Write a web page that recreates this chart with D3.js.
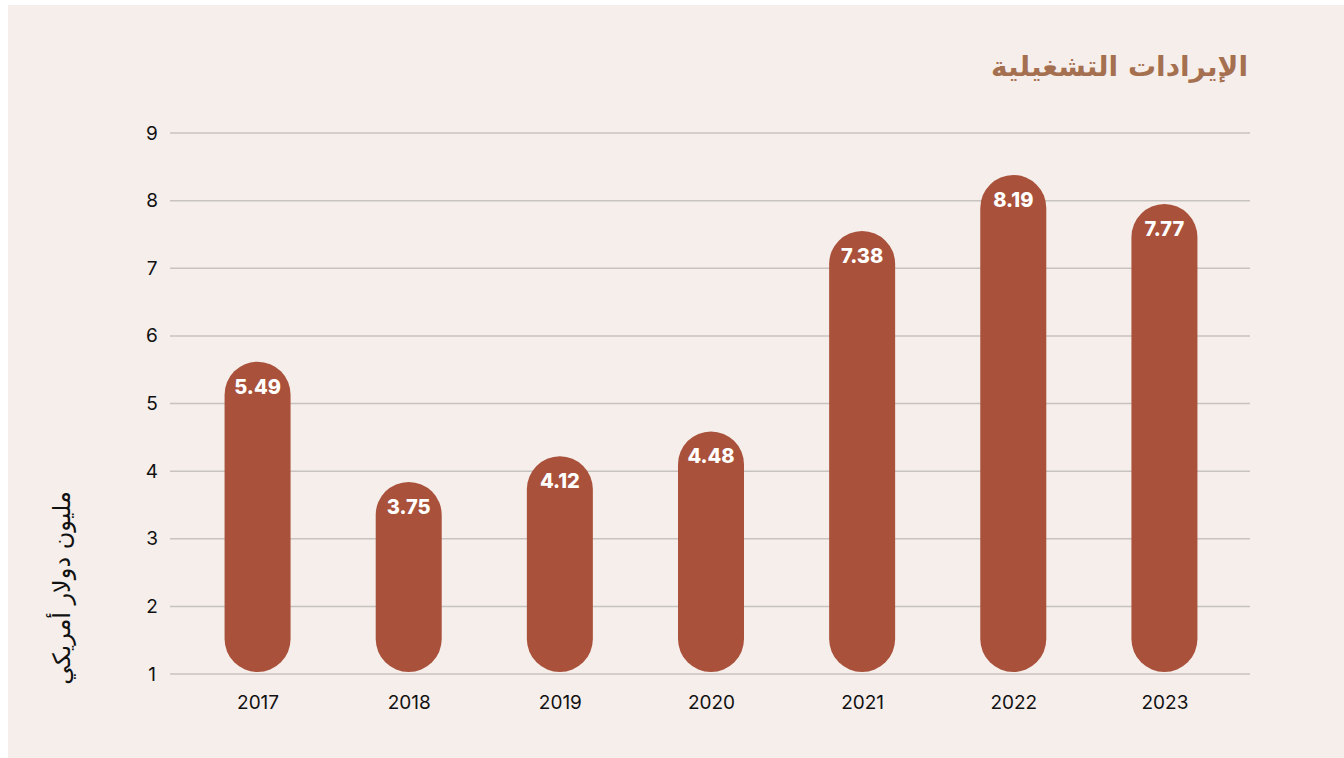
<!DOCTYPE html>
<html>
<head>
<meta charset="utf-8">
<script src="https://cdn.jsdelivr.net/npm/d3@7"></script>
<style>
  body { margin: 0; background: #ffffff; }
  svg { display: block; }
</style>
</head>
<body>
<svg id="chart"></svg>
<script>
// Chart data
const years = ['2017', '2018', '2019', '2020', '2021', '2022', '2023'];
const revenue = [5.49, 3.75, 4.12, 4.48, 7.38, 8.19, 7.77];
const yTicks = [1, 2, 3, 4, 5, 6, 7, 8, 9];
const titleText = 'الإيرادات التشغيلية';
const yLabelText = 'مليون دولار أمريكي';

const width = 1344;
const height = 758;

const svg = d3.select('svg#chart')
    .attr('width', width)
    .attr('height', height);

// Panel background
svg.append('rect')
    .attr('x', 8)
    .attr('y', 5)
    .attr('width', width - 8)
    .attr('height', height - 5)
    .attr('fill', '#f5eeeb');

// Scales
const xScale = d3.scalePoint()
    .domain(years)
    .range([182, 1240])
    .padding(0.5);

const yScale = d3.scaleLinear()
    .domain([1, 9])
    .range([674, 133]);

// bars in the source are drawn on a slightly stretched scale
const barScale = d3.scaleLinear()
    .domain([1, 9])
    .range([672, 119]);

const barWidth = 66;

// Grid lines
svg.append('g')
    .selectAll('line')
    .data(yTicks)
    .enter()
    .append('line')
    .attr('x1', 170)
    .attr('x2', 1250)
    .attr('y1', d => yScale(d))
    .attr('y2', d => yScale(d))
    .attr('stroke', '#c8c3c0')
    .attr('stroke-width', 1.5);

// Y axis
const yAxis = d3.axisLeft(yScale)
    .tickValues(yTicks)
    .tickSize(0)
    .tickPadding(0);

svg.append('g')
    .attr('transform', 'translate(152, 0)')
    .call(yAxis)
    .call(g => g.select('.domain').remove())
    .selectAll('text')
    .attr('text-anchor', 'middle')
    .attr('font-family', 'Inter, "Noto Sans", sans-serif')
    .attr('font-size', 19)
    .attr('fill', '#111');

// X axis
const xAxis = d3.axisBottom(xScale)
    .tickSize(0)
    .tickPadding(0);

svg.append('g')
    .attr('transform', 'translate(0, 695)')
    .call(xAxis)
    .call(g => g.select('.domain').remove())
    .selectAll('text')
    .attr('font-family', 'Inter, "Noto Sans", sans-serif')
    .attr('font-size', 19)
    .attr('fill', '#111');

// Bars (pill shapes)
svg.append('g')
    .selectAll('rect')
    .data(revenue)
    .enter()
    .append('rect')
    .attr('x', (d, i) => xScale(years[i]) - barWidth / 2)
    .attr('y', d => barScale(d))
    .attr('width', barWidth)
    .attr('height', d => barScale(1) - barScale(d))
    .attr('rx', barWidth / 2)
    .attr('fill', '#a9513a');

// Value labels
svg.append('g')
    .selectAll('text')
    .data(revenue)
    .enter()
    .append('text')
    .attr('x', (d, i) => xScale(years[i]))
    .attr('y', d => barScale(d) + 32)
    .attr('text-anchor', 'middle')
    .attr('font-family', 'Inter, "Noto Sans", sans-serif')
    .attr('font-weight', 800)
    .attr('font-size', 20)
    .attr('fill', '#ffffff')
    .text(d => d.toFixed(2));

// Title
svg.append('text')
    .attr('x', 1248)
    .attr('y', 76)
    .attr('text-anchor', 'start')
    .attr('direction', 'rtl')
    .attr('font-family', '"DejaVu Sans", sans-serif')
    .attr('font-weight', 700)
    .attr('font-size', 28)
    .attr('fill', '#a57050')
    .text(titleText);

// Y axis label
svg.append('text')
    .attr('transform', 'translate(70, 588) rotate(-90)')
    .attr('text-anchor', 'middle')
    .attr('direction', 'rtl')
    .attr('font-family', '"DejaVu Sans", sans-serif')
    .attr('font-size', 24)
    .attr('fill', '#111')
    .text(yLabelText);
</script>
</body>
</html>
